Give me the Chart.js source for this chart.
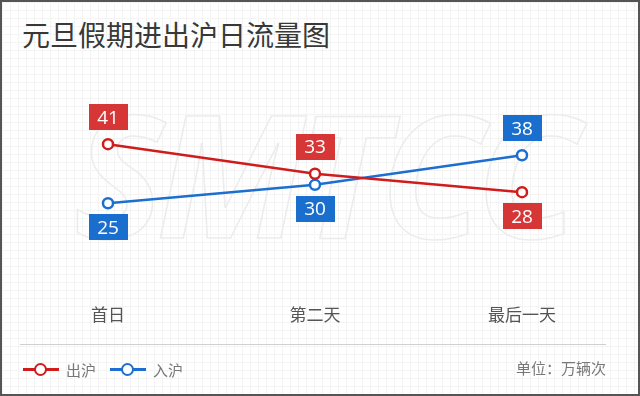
<!DOCTYPE html>
<html><head><meta charset="utf-8">
<script src="https://cdn.jsdelivr.net/npm/chart.js@4"></script>
<style>
html,body{margin:0;padding:0;}
#wrap{position:relative;width:640px;height:396px;box-sizing:border-box;border:2px solid #555;overflow:hidden;
background-color:#fff;
background-image:linear-gradient(#f4f4f4 1px,transparent 1px),linear-gradient(90deg,#f4f4f4 1px,transparent 1px);
background-size:8px 8px;}
#title{position:absolute;left:20px;top:15px;font:28px "Noto Sans CJK SC",sans-serif;color:#383838;line-height:34px;white-space:nowrap;}
#wm{position:absolute;left:72px;top:70px;font:italic bold 170px "Open Sans",sans-serif;color:transparent;-webkit-text-stroke:1.5px #ececec;letter-spacing:-8px;line-height:200px;white-space:nowrap;}
#sep{position:absolute;left:18px;top:342px;width:586px;height:0;border-top:1.5px solid #cfcfcf;}
#c{position:absolute;left:-2px;top:-2px;}
.leg{position:absolute;top:355px;height:24px;display:flex;align-items:center;font:15px "Noto Sans CJK SC",sans-serif;color:#777;}
.mk{position:relative;width:36px;height:24px;margin-right:7px;}
.mk i{position:absolute;left:0;top:11px;width:36px;height:2.5px;}
.mk b{position:absolute;left:11px;top:5.5px;width:9px;height:9px;border-radius:50%;background:#fff;border:2.5px solid;}
#unit{position:absolute;right:32px;top:355px;line-height:24px;font:15px "Noto Sans CJK SC",sans-serif;color:#777;}
</style></head>
<body>
<div id="wrap">
<div id="wm">SMTCC</div>
<div id="title">元旦假期进出沪日流量图</div>
<canvas id="c" width="640" height="396"></canvas>
<div id="sep"></div>
<div class="leg" style="left:21px"><div class="mk"><i style="background:#d01c1c"></i><b style="border-color:#d01c1c"></b></div>出沪</div>
<div class="leg" style="left:108px"><div class="mk"><i style="background:#1c6fd1"></i><b style="border-color:#1c6fd1"></b></div>入沪</div>
<div id="unit">单位：万辆次</div>
</div>
<script>
const categories = ["首日", "第二天", "最后一天"];
const outbound = [41, 33, 28];   // 出沪
const inbound = [25, 30, 38];    // 入沪
const seriesNames = ["出沪", "入沪"];
const lineColors = ["#d01c1c", "#1c6fd1"];
const boxColors = ["#d63636", "#1a6fce"];

const labelPlugin = {
  id: 'boxLabels',
  afterDatasetsDraw(chart) {
    const ctx = chart.ctx;
    const metas = [chart.getDatasetMeta(0), chart.getDatasetMeta(1)];
    const data = [outbound, inbound];
    ctx.save();
    ctx.font = '19px "Open Sans", "Noto Sans", sans-serif';
    ctx.textAlign = 'center';
    ctx.textBaseline = 'middle';
    categories.forEach((c, i) => {
      for (let d = 0; d < 2; d++) {
        const other = 1 - d;
        const above = data[d][i] >= data[other][i];
        const pt = metas[d].data[i];
        const cx = pt.x, cy = above ? pt.y - 27 : pt.y + 24;
        const w = 39, h = 26;
        ctx.fillStyle = boxColors[d];
        ctx.fillRect(Math.round(cx - w / 2), Math.round(cy - h / 2), w, h);
        ctx.fillStyle = '#fff';
        ctx.fillText(String(data[d][i]), cx, cy + 1);
      }
    });
    ctx.restore();
  }
};

new Chart(document.getElementById('c'), {
  type: 'line',
  data: {
    labels: categories,
    datasets: [
      { label: seriesNames[0], data: outbound, borderColor: lineColors[0], backgroundColor: '#fff',
        borderWidth: 2.5, pointRadius: 5, pointBorderWidth: 2.5, pointBackgroundColor: '#fff', pointBorderColor: lineColors[0], tension: 0 },
      { label: seriesNames[1], data: inbound, borderColor: lineColors[1], backgroundColor: '#fff',
        borderWidth: 2.5, pointRadius: 5, pointBorderWidth: 2.5, pointBackgroundColor: '#fff', pointBorderColor: lineColors[1], tension: 0 }
    ]
  },
  options: {
    responsive: false,
    animation: false,
    layout: { padding: { left: 108, right: 118, top: 74, bottom: 70 } },
    plugins: { legend: { display: false }, tooltip: { enabled: false }, title: { display: false } },
    scales: {
      x: { offset: false, grid: { display: false }, border: { display: false },
           ticks: { padding: 1, color: '#555', font: { size: 17, family: '"Noto Sans CJK SC", sans-serif' }, maxRotation: 0, autoSkip: false } },
      y: { display: false, min: 0, max: 60 }
    }
  },
  plugins: [labelPlugin]
});
</script>
</body></html>
